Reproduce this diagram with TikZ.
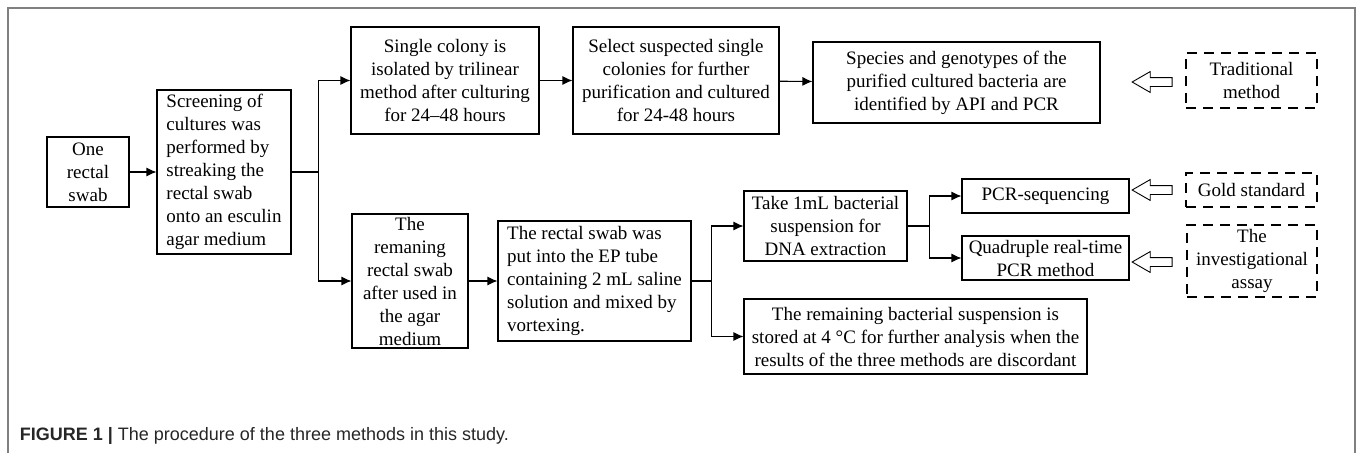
\documentclass[tikz,border=0pt]{standalone}
\usepackage{fontspec}
\setmainfont{Liberation Serif}
\newfontfamily\capfont{Liberation Sans}
\usetikzlibrary{arrows.meta,shapes.arrows}

\begin{document}
\begin{tikzpicture}[x=1pt,y=-1pt,->,>={Latex[length=10pt,width=9pt]},line width=1.1pt,
  font=\fontsize{19}{23}\selectfont]

  \tikzstyle{box}=[draw=black,fill=white,align=center,inner sep=2pt]
  \tikzstyle{dbox}=[box,dash pattern=on 10pt off 7pt]
  \tikzstyle{hollow}=[draw=black,fill=white,line width=0.9pt,single arrow,shape border rotate=180,
    minimum height=40,minimum width=20,single arrow head extend=6,single arrow tip angle=60,inner sep=4pt]

  \useasboundingbox (0,0) rectangle (1357,453);
  \draw[-,draw=black!50,line width=1.2pt] (8,453) -- (8,8) -- (1355,8) -- (1355,453);

  \node[box,minimum width=82,minimum height=70]    (swab)   at (88,172)    {One\\rectal\\swab};
  \node[box,minimum width=134,minimum height=164,align=left] (screen) at (224,172)
    {Screening of\\cultures was\\performed by\\streaking the\\rectal swab\\onto an esculin\\agar medium};
  \node[box,minimum width=188,minimum height=107]  (single)  at (445,80.5)
    {Single colony is\\isolated by trilinear\\method after culturing\\for 24--48 hours};
  \node[box,minimum width=206,minimum height=107]  (select)  at (676,80.5)
    {Select suspected single\\colonies for further\\purification and cultured\\for 24-48 hours};
  \node[box,minimum width=287,minimum height=81]   (species) at (956.5,82.5)
    {Species and genotypes of the\\purified cultured bacteria are\\identified by API and PCR};
  \node[box,minimum width=116,minimum height=134]  (remain)  at (410,281)
    {The\\remaning\\rectal swab\\after used in\\the agar\\medium};
  \node[box,minimum width=193,minimum height=120,align=left] (tube) at (594.5,281)
    {The rectal swab was\\put into the EP tube\\containing 2 mL saline\\solution and mixed by\\vortexing.};
  \node[box,minimum width=163,minimum height=70]   (take)    at (825.5,226)
    {Take 1mL bacterial\\suspension for\\DNA extraction};
  \node[box,minimum width=343,minimum height=75]   (store)   at (915.5,336.5)
    {The remaining bacterial suspension is\\stored at 4 \textdegree C for further analysis when the\\results of the three methods are discordant};
  \node[box,minimum width=167,minimum height=34]   (pcrseq)  at (1045.5,196) {PCR-sequencing};
  \node[box,minimum width=167,minimum height=44,inner sep=0pt] (quad) at (1045.5,258)
    {Quadruple real-time\\PCR method};

  \node[dbox,minimum width=131,minimum height=55]  (trad)    at (1251.5,80.5) {Traditional\\method};
  \node[dbox,minimum width=131,minimum height=34]  (gold)    at (1251.5,190)  {Gold standard};
  \node[dbox,minimum width=130,minimum height=72]  (invest)  at (1252,261)
    {The\\investigational\\assay};

  \node[hollow] (h1) at (1156,82)  {};
  \node[hollow] (h2) at (1156,190) {};
  \node[hollow] (h3) at (1156,262) {};

  \draw (swab) -- (screen);
  \draw (screen.east) -- ++(27,0) |- (single);
  \draw (screen.east) -- ++(27,0) |- (remain);
  \draw (single) -- (select);
  \draw (select) -- (species);
  \draw (remain) -- (tube);
  \draw (tube.east) -- ++(20,0) |- (take);
  \draw (tube.east) -- ++(20,0) |- (store);
  \draw (take.east) -- ++(22,0) |- (pcrseq);
  \draw (take.east) -- ++(22,0) |- (quad);

  \node[anchor=base west,font=\capfont\fontsize{18}{21}\selectfont,text=black!85] (cap) at (16,440)
    {\textbf{FIGURE 1 |} The procedure of the three methods in this study.};
\end{tikzpicture}
\end{document}
